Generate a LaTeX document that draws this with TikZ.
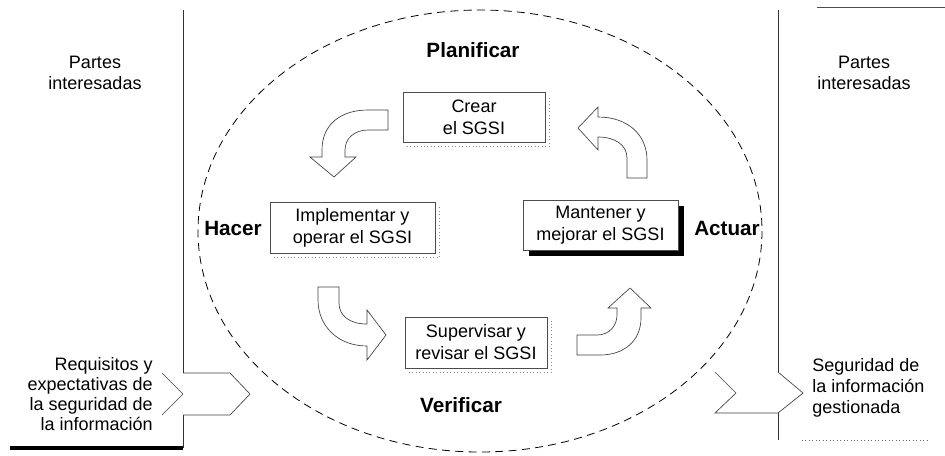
\documentclass[tikz,border=0pt]{standalone}
\usepackage{fontspec}
\setmainfont{Liberation Sans}
\usetikzlibrary{shadows}
\begin{document}
\begin{tikzpicture}[x=0.75pt,y=-0.75pt,
  reg/.style={font=\fontsize{13.5}{15.5}\selectfont, inner sep=0pt},
  phase/.style={font=\fontsize{15.5}{18}\selectfont\bfseries, inner sep=0pt},
  stepbox/.style={draw=black!70, line width=0.5pt, fill=white, align=center,
    font=\fontsize{13.5}{16.5}\selectfont, inner sep=0pt},
  rule/.style={draw=black!80, line width=0.6pt},
  sh/.style={draw=black!45, line width=0.6pt, dotted},
  barrow/.style={draw=black!75, line width=0.5pt, fill=white, line join=miter},
  cycleline/.style={draw=black, line width=0.6pt, dash pattern=on 6pt off 4pt},
]
\useasboundingbox (0,0) rectangle (945,455);

% PDCA ellipse
\draw[cycleline] (480,231) ellipse [x radius=282, y radius=221];

% side rules
\draw[rule] (183,10) -- (183,373);
\draw[rule] (183,415) -- (183,448);
\draw[draw=black, line width=2.4pt] (10,448) -- (183,448);
\draw[rule] (778,10) -- (778,372);
\draw[rule] (778,413) -- (778,440);
\draw[draw=black!70, line width=0.6pt] (817,7) -- (945,7);
\draw[draw=black!60, line width=0.6pt, dotted] (802,440) -- (928,440);

% input / output chevrons
\draw[barrow, fill=none] (162,373) -- (183,394) -- (162,415);
\draw[barrow, fill=none] (183,373) -- (230,373) -- (250,394) -- (230,415) -- (183,415);
\draw[barrow, fill=none] (715,372) -- (736,393) -- (715,413) -- (778,413) -- (803,393) -- (778,372);

% side texts
\node[reg, align=center] (pil) at (95,73) {Partes\\interesadas};
\node[reg, align=center] (pir) at (864,73) {Partes\\interesadas};
\node[reg, align=right, anchor=east, font=\fontsize{13.5}{14.8}\selectfont] (req) at (153,394)
  {Requisitos y\\expectativas de\\la seguridad de\\la información};
\node[reg, align=left, anchor=west, font=\fontsize{13.5}{16}\selectfont] (seg) at (812,388)
  {Seguridad de\\la información\\gestionada};

% phase labels
\node[phase] (plan) at (473,50) {Planificar};
\node[phase] (verif) at (461,405) {Verificar};
\node[phase] (hacer) at (233,228) {Hacer};
\node[phase] (actuar) at (727,228) {Actuar};

% step boxes
\node[stepbox, minimum width=106.5pt, minimum height=37.5pt] (crear) at (474,117) {Crear\\el SGSI};
\node[stepbox, minimum width=123.75pt, minimum height=38.25pt] (impl) at (352.5,227.5) {Implementar y\\operar el SGSI};
\node[stepbox, minimum width=116.25pt, minimum height=37.5pt,
  drop shadow={shadow xshift=4.5pt, shadow yshift=-4.5pt, fill=black, opacity=1}] (mant) at (600.5,225) {Mantener y\\mejorar el SGSI};
\node[stepbox, minimum width=106.5pt, minimum height=38.25pt] (sup) at (476,342.5) {Supervisar y\\revisar el SGSI};

% light dotted shadows
\foreach \b in {crear,impl,sup}{
  \draw[sh] ([shift={(4,4)}]\b.south west) -- ([shift={(4,4)}]\b.south east) -- ([shift={(4,4)}]\b.north east);
}

% curved block arrows
% Planificar -> Hacer
\draw[barrow] (388,110) -- (368,110) .. controls (340,110) and (322,125) .. (322,150)
  -- (322,157) -- (310,157) -- (334,177) -- (356,157) -- (345,157) -- (345,150)
  .. controls (345,138) and (355,130) .. (368,130) -- (388,130) -- cycle;
% Actuar -> Planificar
\draw[barrow] (598,117) .. controls (628,117) and (647,135) .. (647,160) -- (647,178)
  -- (627,178) -- (627,158) .. controls (627,145) and (615,137) .. (598,137)
  -- (598,150) -- (578,128) -- (598,107) -- cycle;
% Hacer -> Verificar
\draw[barrow] (318,287) -- (339,287) -- (339,303) .. controls (339,316) and (350,324) .. (367,324)
  -- (367,310) -- (386,335) -- (367,360) -- (367,346)
  .. controls (338,346) and (318,326) .. (318,300) -- cycle;
% Verificar -> Actuar
\draw[barrow] (577,335) -- (597,335) .. controls (610,335) and (617,325) .. (617,315)
  -- (617,308) -- (608,308) -- (630,288) -- (651,308) -- (641,308) -- (641,318)
  .. controls (641,340) and (625,355) .. (600,355) -- (577,355) -- cycle;
\end{tikzpicture}
\end{document}
